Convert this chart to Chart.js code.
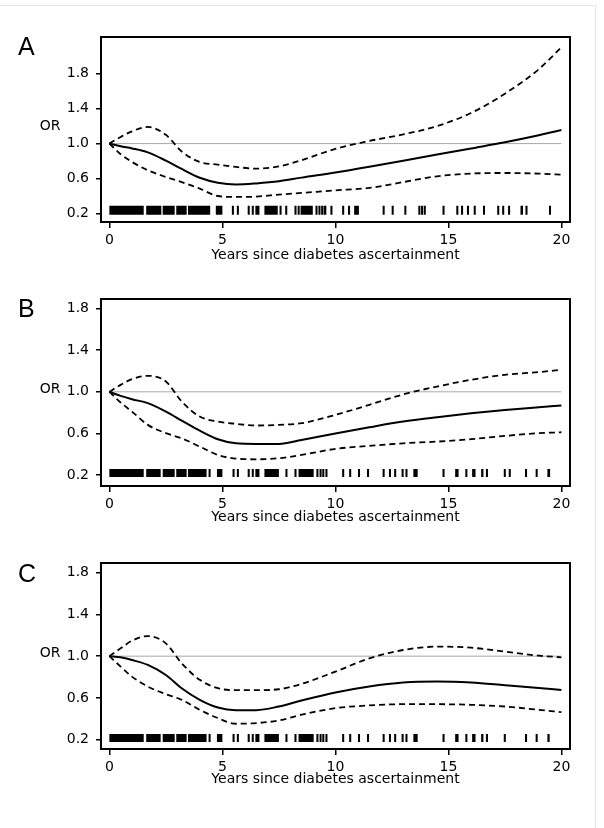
<!DOCTYPE html>
<html>
<head>
<meta charset="utf-8">
<script src="https://cdn.jsdelivr.net/npm/chart.js@4"></script>
<style>
  html, body { margin: 0; padding: 0; background: #fff; }
  #page { position: relative; width: 604px; height: 828px; overflow: hidden; }
  #frame { position: absolute; left: -2px; top: 5px; width: 598px; height: 830px;
           border-top: 1px solid #e6e6e6; border-right: 1px solid #e6e6e6; box-sizing: border-box; }
  .panel { position: absolute; left: 0; width: 604px; }
  canvas { display: block; }
</style>
</head>
<body>
<div id="page">
  <div id="frame"></div>
  <div class="panel" style="top:0px;height:270px"><canvas id="cA" width="604" height="270"></canvas></div>
  <div class="panel" style="top:270px;height:270px"><canvas id="cB" width="604" height="270"></canvas></div>
  <div class="panel" style="top:540px;height:288px"><canvas id="cC" width="604" height="288"></canvas></div>
</div>
<script>
// ---------- data ----------
const panelLabels = ['A', 'B', 'C'];
const yAxisLabel = 'OR';
const xAxisTitle = 'Years since diabetes ascertainment';
const xTicks = [0, 5, 10, 15, 20];
const xTickLabels = ['0', '5', '10', '15', '20'];
const yTicks = [0.2, 0.6, 1.0, 1.4, 1.8];
const yTickLabels = ['0.2', '0.6', '1.0', '1.4', '1.8'];
const referenceOR = 1.0;

const years = [0, 0.5, 1, 1.7, 2.5, 3.2, 4, 4.8, 5.6, 6.5, 7.5, 8.5, 10, 11.5, 13, 14.5, 16, 17.5, 19, 20];

const orA    = [1.0, 0.969, 0.945, 0.9, 0.805, 0.71, 0.61, 0.553, 0.533, 0.545, 0.569, 0.611, 0.669, 0.735, 0.805, 0.875, 0.945, 1.015, 1.095, 1.155];
const upperA = [1.0, 1.076, 1.14, 1.19, 1.1, 0.91, 0.79, 0.76, 0.733, 0.714, 0.74, 0.81, 0.94, 1.03, 1.105, 1.2, 1.35, 1.57, 1.85, 2.1];
const lowerA = [1.0, 0.878, 0.79, 0.695, 0.618, 0.56, 0.486, 0.401, 0.39, 0.394, 0.417, 0.436, 0.466, 0.493, 0.56, 0.626, 0.657, 0.664, 0.657, 0.646];

const orB    = [1.0, 0.961, 0.929, 0.891, 0.81, 0.724, 0.627, 0.544, 0.505, 0.499, 0.499, 0.537, 0.60, 0.659, 0.714, 0.756, 0.794, 0.826, 0.852, 0.868];
const upperB = [1.0, 1.067, 1.122, 1.154, 1.1, 0.907, 0.762, 0.714, 0.692, 0.676, 0.682, 0.698, 0.778, 0.875, 0.975, 1.051, 1.116, 1.164, 1.19, 1.212];
const lowerB = [1.0, 0.897, 0.81, 0.682, 0.602, 0.553, 0.473, 0.393, 0.357, 0.351, 0.361, 0.393, 0.451, 0.48, 0.505, 0.521, 0.544, 0.576, 0.602, 0.611];

const orC    = [1.0, 0.989, 0.963, 0.916, 0.82, 0.693, 0.582, 0.508, 0.483, 0.483, 0.518, 0.575, 0.652, 0.709, 0.747, 0.757, 0.747, 0.722, 0.696, 0.677];
const upperC = [1.0, 1.075, 1.148, 1.192, 1.122, 0.932, 0.773, 0.693, 0.674, 0.674, 0.683, 0.734, 0.852, 0.979, 1.059, 1.091, 1.081, 1.043, 1.005, 0.989];
const lowerC = [1.0, 0.9, 0.804, 0.709, 0.636, 0.582, 0.486, 0.407, 0.353, 0.359, 0.384, 0.439, 0.502, 0.528, 0.54, 0.54, 0.534, 0.518, 0.486, 0.464];

// rug of observed times: dense runs [start, end] and single ticks
const rugRunsA  = [[0, 1.52], [1.63, 2.3], [2.36, 2.89], [2.96, 3.42], [3.48, 4.46], [4.71, 5.0], [6.46, 6.64], [6.86, 7.45], [8.46, 9.0], [9.48, 9.6], [10.83, 11.04], [14.74, 14.83], [16.53, 16.62], [18.19, 18.3]];
const rugTicksA = [5.42, 5.64, 6.12, 6.3, 7.53, 7.78, 8.19, 8.33, 9.12, 9.25, 9.37, 9.78, 10.3, 10.56, 12.09, 12.49, 13.05, 13.67, 13.79, 13.91, 15.35, 15.56, 15.82, 16.12, 17.16, 17.38, 17.64, 18.41, 19.45];

const rugRunsB  = [[0, 1.52], [1.63, 2.27], [2.36, 2.89], [2.96, 3.42], [3.48, 4.3], [4.76, 5.0], [6.46, 6.64], [6.86, 7.5], [8.46, 9.04], [13.45, 13.64], [15.3, 15.45], [16.05, 16.2], [16.45, 16.55], [19.38, 19.5]];
const rugTicksB = [4.39, 5.45, 5.64, 6.12, 6.3, 7.79, 8.19, 8.37, 9.16, 9.3, 9.42, 9.56, 10.3, 10.61, 11.0, 11.4, 12.09, 12.37, 12.6, 12.93, 13.1, 14.74, 15.75, 16.66, 17.45, 17.67, 18.39, 18.86];

const rugRunsC  = [[0, 1.52], [1.63, 2.27], [2.36, 2.89], [2.96, 3.42], [3.48, 4.3], [4.76, 5.0], [6.46, 6.64], [6.86, 7.5], [8.46, 9.04], [13.45, 13.64], [15.3, 15.45], [16.05, 16.2], [16.45, 16.55], [19.38, 19.48]];
const rugTicksC = [4.39, 5.45, 5.64, 6.12, 6.3, 7.79, 8.19, 8.37, 9.16, 9.3, 9.42, 9.56, 10.3, 10.61, 11.0, 11.4, 12.09, 12.37, 12.6, 12.93, 13.1, 14.74, 15.75, 16.66, 17.45, 18.39, 18.86];

// ---------- drawing ----------
const FONT = '"DejaVu Sans", "Liberation Sans", sans-serif';
const TICK_W = 0.09; // width of a single rug tick, in years

function pts(xs, ys) { return xs.map((x, i) => ({ x: x, y: ys[i] })); }
function rugPoints(runs, ticks, y) {
  const segs = runs.concat(ticks.map(t => [t, t + TICK_W])).sort((a, b) => a[0] - b[0]);
  const out = [];
  segs.forEach(s => { out.push({ x: s[0], y: y }, { x: s[1], y: y }, { x: s[1], y: null }); });
  return out;
}

const decorPlugin = {
  id: 'decor',
  afterDraw(chart, args, opts) {
    const ctx = chart.ctx, a = chart.chartArea;
    ctx.save();
    ctx.strokeStyle = '#000';
    ctx.lineWidth = 2;
    ctx.strokeRect(a.left, a.top, a.right - a.left, a.bottom - a.top);
    ctx.fillStyle = '#000';
    ctx.font = '25px "Liberation Sans", Arial, sans-serif';
    ctx.textAlign = 'left';
    ctx.textBaseline = 'alphabetic';
    ctx.fillText(opts.letter, 18, opts.letterBaseline);
    ctx.font = '14px ' + FONT;
    ctx.textAlign = 'center';
    ctx.textBaseline = 'middle';
    ctx.fillText(yAxisLabel, 50, (a.top + a.bottom) / 2 - 3);
    ctx.restore();
  }
};

function makePanel(id, p) {
  const datasets = [
    { data: pts(years, p.or), borderColor: '#000', borderWidth: 2, pointRadius: 0, cubicInterpolationMode: 'monotone' },
    { data: pts(years, p.upper), borderColor: '#000', borderWidth: 1.8, borderDash: [6, 4], pointRadius: 0, cubicInterpolationMode: 'monotone' },
    { data: pts(years, p.lower), borderColor: '#000', borderWidth: 1.8, borderDash: [6, 4], pointRadius: 0, cubicInterpolationMode: 'monotone' },
    { data: rugPoints(p.runs, p.ticks, p.rugY), borderColor: '#000', borderWidth: p.rugH, borderCapStyle: 'butt', pointRadius: 0, spanGaps: false },
    { data: [{ x: xTicks[0], y: referenceOR }, { x: xTicks[xTicks.length - 1], y: referenceOR }], borderColor: '#a8a8a8', borderWidth: 1, pointRadius: 0 }
  ];
  return new Chart(document.getElementById(id), {
    type: 'line',
    data: { datasets: datasets },
    options: {
      responsive: false,
      animation: false,
      devicePixelRatio: 1,
      layout: { padding: { top: p.padTop, right: 34, bottom: p.padBottom, left: 0 } },
      plugins: { legend: { display: false }, tooltip: { enabled: false }, decor: { letter: p.letter, letterBaseline: p.letterBaseline } },
      scales: {
        x: {
          type: 'linear', min: -0.37, max: 20.38,
          afterBuildTicks: s => { s.ticks = xTicks.map(v => ({ value: v })); },
          afterFit: s => { s.height = p.xAxisH; },
          ticks: { autoSkip: false, maxRotation: 0, color: '#000', font: { family: FONT, size: 14 }, padding: 4,
                   callback: (v) => xTickLabels[xTicks.indexOf(v)] },
          grid: { display: true, drawOnChartArea: false, drawTicks: true, tickLength: 6, color: '#000', lineWidth: 1.5 },
          border: { display: false },
          title: { display: true, text: xAxisTitle, color: '#000', font: { family: FONT, size: 14 }, padding: { top: 0, bottom: 0 } }
        },
        y: {
          type: 'linear', min: p.yMin, max: p.yMax,
          afterBuildTicks: s => { s.ticks = yTicks.map(v => ({ value: v })); },
          afterFit: s => { s.width = 101; },
          ticks: { autoSkip: false, color: '#000', font: { family: FONT, size: 14 }, padding: 7,
                   callback: (v) => yTickLabels[yTicks.indexOf(v)] },
          grid: { display: true, drawOnChartArea: false, drawTicks: true, tickLength: 5, color: '#000', lineWidth: 1.5 },
          border: { display: false }
        }
      }
    },
    plugins: [decorPlugin]
  });
}

makePanel('cA', { letter: panelLabels[0], letterBaseline: 55, or: orA, upper: upperA, lower: lowerA,
  runs: rugRunsA, ticks: rugTicksA, rugY: 0.238, rugH: 9, yMin: 0.104, yMax: 2.218, padTop: 37, padBottom: 6, xAxisH: 42 });
makePanel('cB', { letter: panelLabels[1], letterBaseline: 47, or: orB, upper: upperB, lower: lowerB,
  runs: rugRunsB, ticks: rugTicksB, rugY: 0.22, rugH: 8, yMin: 0.094, yMax: 1.893, padTop: 29, padBottom: 14, xAxisH: 40 });
makePanel('cC', { letter: panelLabels[2], letterBaseline: 42, or: orC, upper: upperC, lower: lowerC,
  runs: rugRunsC, ticks: rugTicksC, rugY: 0.216, rugH: 8, yMin: 0.111, yMax: 1.892, padTop: 23, padBottom: 40, xAxisH: 39 });
</script>
</body>
</html>
